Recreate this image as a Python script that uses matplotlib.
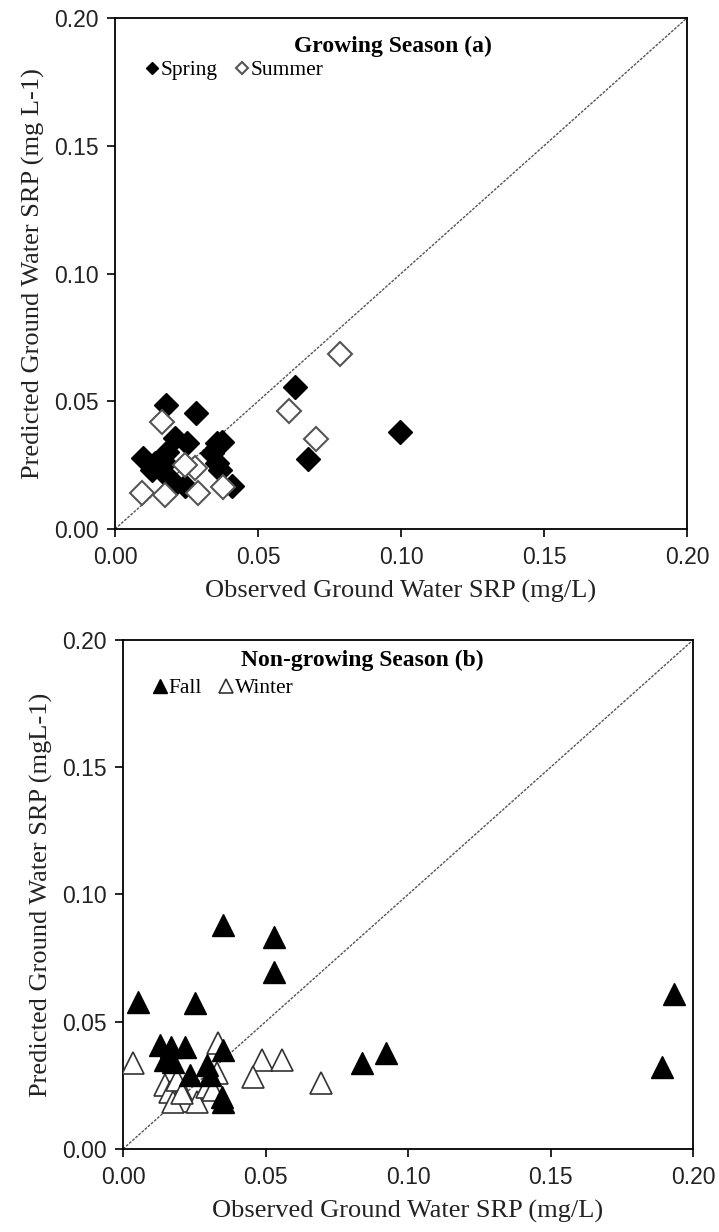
import matplotlib
matplotlib.use("Agg")
import matplotlib.pyplot as plt
import numpy as np

# growing season (a)
spring_x = [0.0997, 0.063, 0.0675, 0.0178, 0.0283, 0.021, 0.025, 0.0098, 0.014, 0.013, 0.0175,
            0.018, 0.019, 0.020, 0.0245, 0.0356, 0.0374, 0.034, 0.0356, 0.0367, 0.041]
spring_y = [0.038, 0.0556, 0.0274, 0.0485, 0.0454, 0.0356, 0.0337, 0.0278, 0.026, 0.023, 0.026,
            0.030, 0.020, 0.0166, 0.017, 0.0337, 0.034, 0.0297, 0.026, 0.023, 0.0168]
summer_x = [0.0787, 0.061, 0.0703, 0.0164, 0.0094, 0.0175, 0.029, 0.0378, 0.028, 0.0245]
summer_y = [0.0685, 0.046, 0.0352, 0.042, 0.014, 0.0133, 0.014, 0.0166, 0.024, 0.025]

# non-growing season (b)
fall_x = [0.1933, 0.189, 0.0923, 0.0839, 0.0351, 0.053, 0.053, 0.0053, 0.0253, 0.013, 0.017,
          0.0218, 0.0147, 0.0176, 0.0235, 0.0295, 0.0305, 0.035, 0.0347, 0.035]
fall_y = [0.0609, 0.0322, 0.0377, 0.0338, 0.088, 0.0833, 0.0695, 0.0578, 0.0574, 0.041, 0.040,
          0.040, 0.035, 0.034, 0.029, 0.033, 0.029, 0.039, 0.0205, 0.0186]
winter_x = [0.0695, 0.0035, 0.0333, 0.0488, 0.0558, 0.0456, 0.0147, 0.0165, 0.019, 0.0224,
            0.026, 0.0295, 0.0316, 0.0176, 0.033, 0.0207]
winter_y = [0.026, 0.0338, 0.0416, 0.035, 0.035, 0.0283, 0.025, 0.0224, 0.027, 0.019,
            0.0186, 0.0244, 0.023, 0.0186, 0.030, 0.022]

ticks = [0.00, 0.05, 0.10, 0.15, 0.20]
tick_labels = ["0.00", "0.05", "0.10", "0.15", "0.20"]

serif = "Liberation Serif"
sans = "Liberation Sans"

fig = plt.figure(figsize=(7.19, 12.32), dpi=100)
ax1 = fig.add_axes([0.160, 0.5706, 0.7955, 0.4148])
ax2 = fig.add_axes([0.1711, 0.0674, 0.7928, 0.4131])


def style(ax, ylab):
    ax.set_xlim(0, 0.2)
    ax.set_ylim(0, 0.2)
    # 1:1 line
    ax.plot([0, 0.2], [0, 0.2], linestyle=(0, (2, 1)), color="#555555", linewidth=1.0, zorder=1)
    ax.set_xticks(ticks)
    ax.set_yticks(ticks)
    ax.set_xticklabels(tick_labels, fontfamily=sans, fontsize=16.5, color="#222222")
    ax.set_yticklabels(tick_labels, fontfamily=sans, fontsize=16.5, color="#222222")
    ax.tick_params(direction="out", length=6, width=1.2, top=False, right=False, pad=6)
    for s in ax.spines.values():
        s.set_linewidth(1.3)
    ax.set_xlabel("Observed Ground Water SRP (mg/L)", fontfamily=serif, fontsize=19, labelpad=8,
                  color="#222222")
    ax.set_ylabel(ylab, fontfamily=serif, fontsize=19, labelpad=6, color="#222222")


# panel a
ax1.plot(spring_x, spring_y, linestyle="none", marker="D", markersize=12,
         markerfacecolor="black", markeredgecolor="black", label="Spring", zorder=3)
ax1.plot(summer_x, summer_y, linestyle="none", marker="D", markersize=12,
         markerfacecolor="white", markeredgecolor="#555555", markeredgewidth=1.5,
         label="Summer", zorder=4)
style(ax1, "Predicted Ground Water SRP (mg L-1)")
ax1.text(0.485, 0.945, "Growing Season (a)", transform=ax1.transAxes, ha="center", va="center",
         fontfamily=serif, fontweight="bold", fontsize=17)
ax1.legend(loc="center left", bbox_to_anchor=(0.02, 0.898), ncol=2, frameon=False, markerscale=0.5,
           handlelength=0.6, handletextpad=0.1, columnspacing=0.8,
           prop={"family": serif, "size": 15.5})

# panel b
ax2.plot(winter_x, winter_y, linestyle="none", marker="^", markersize=16,
         markerfacecolor="white", markeredgecolor="#333333", markeredgewidth=1.2,
         label="Winter", zorder=3)
ax2.plot(fall_x, fall_y, linestyle="none", marker="^", markersize=16,
         markerfacecolor="black", markeredgecolor="black", label="Fall", zorder=4)
style(ax2, "Predicted Ground Water SRP (mgL-1)")
ax2.text(0.42, 0.96, "Non-growing Season (b)", transform=ax2.transAxes, ha="center", va="center",
         fontfamily=serif, fontweight="bold", fontsize=17)
h, l = ax2.get_legend_handles_labels()
ax2.legend(h[::-1], l[::-1], loc="center left", bbox_to_anchor=(0.02, 0.905), ncol=2, frameon=False,
           markerscale=0.6, handlelength=0.6, handletextpad=0.1, columnspacing=0.8,
           prop={"family": serif, "size": 15.5})

fig.savefig("out.png", dpi=100)
